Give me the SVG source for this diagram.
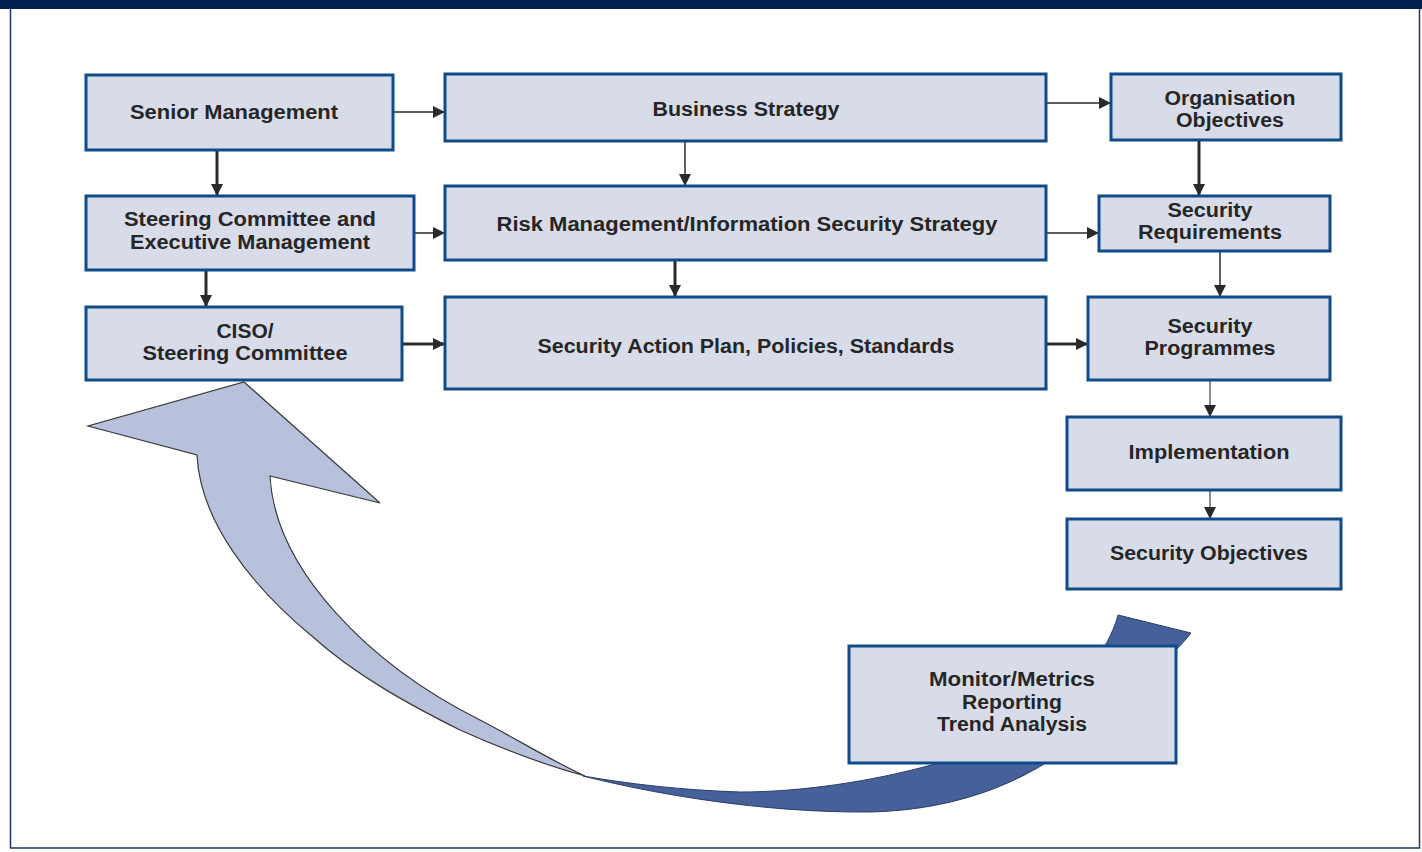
<svg xmlns="http://www.w3.org/2000/svg" width="1422" height="852" viewBox="0 0 1422 852">
<style>
.box{fill:#d8dce9;stroke:#0f4a8a;stroke-width:3}
.t{font-family:"Liberation Sans",Arial,sans-serif;font-weight:bold;font-size:20px;fill:#262626;text-anchor:middle}
.thin{stroke:#2a2a2a;stroke-width:1.5;fill:none}
.thick{stroke:#2a2a2a;stroke-width:3;fill:none}
.gray{stroke:#666;stroke-width:1.5;fill:none}
</style>
<defs>
<marker id="ah" markerUnits="userSpaceOnUse" markerWidth="14" markerHeight="12" refX="12" refY="6" orient="auto">
<path d="M0,0 L12,6 L0,12 Z" fill="#2a2a2a"/>
</marker>
</defs>
<rect x="0" y="0" width="1422" height="852" fill="#ffffff"/>
<rect x="10.5" y="8" width="1409" height="840" fill="#ffffff" stroke="#1c3566" stroke-width="1.5"/>
<rect x="0" y="0" width="1422" height="9" fill="#00204f"/>

<g id="feedback-arrow">
<path d="M244,382 L380,503 L270,476 C275,570 370,665 480,720 C515,738 550,760 585,776 C545,765 500,748 460,730 C410,705 355,675 313,637 C250,585 200,520 197,455 L88,426 Z" fill="#b8c1dc" stroke="#3a3a3a" stroke-width="1.2"/>
<path d="M583,776 C650,793 760,813 870,812 C960,810 1040,780 1100,720 C1140,680 1170,660 1191,633 L1118,615 C1105,665 1040,740 935,764 C870,782 800,792 740,792 C680,790 630,784 583,776 Z" fill="#46609a" stroke="#2e3f66" stroke-width="1"/>
</g>

<g id="connectors">
<path class="thin" d="M393,112 H445" marker-end="url(#ah)"/>
<path class="thin" d="M1046,103 H1111" marker-end="url(#ah)"/>
<path class="thick" d="M217,151 V196" marker-end="url(#ah)"/>
<path class="thin" d="M414,233 H445" marker-end="url(#ah)"/>
<path class="thick" d="M206,271 V307" marker-end="url(#ah)"/>
<path class="thick" d="M402,344 H445" marker-end="url(#ah)"/>
<path class="thin" d="M685,141 V186" marker-end="url(#ah)"/>
<path class="thick" d="M675,260 V297" marker-end="url(#ah)"/>
<path class="thin" d="M1046,233 H1099" marker-end="url(#ah)"/>
<path class="thick" d="M1046,344 H1088" marker-end="url(#ah)"/>
<path class="thick" d="M1199,140 V196" marker-end="url(#ah)"/>
<path class="thin" d="M1220,251 V297" marker-end="url(#ah)"/>
<path class="gray" d="M1210,380 V417" marker-end="url(#ah)"/>
<path class="gray" d="M1210,490 V519" marker-end="url(#ah)"/>
</g>

<g id="senior-management">
<rect class="box" x="86" y="75" width="307" height="75"/>
<text class="t" x="234" y="119" textLength="208" lengthAdjust="spacingAndGlyphs">Senior Management</text>
</g>
<g id="steering-executive">
<rect class="box" x="86" y="196" width="328" height="74"/>
<text class="t" x="250" y="226" textLength="252" lengthAdjust="spacingAndGlyphs">Steering Committee and</text>
<text class="t" x="250" y="249" textLength="240" lengthAdjust="spacingAndGlyphs">Executive Management</text>
</g>
<g id="ciso">
<rect class="box" x="86" y="307" width="316" height="73"/>
<text class="t" x="245" y="338" textLength="57" lengthAdjust="spacingAndGlyphs">CISO/</text>
<text class="t" x="245" y="360" textLength="205" lengthAdjust="spacingAndGlyphs">Steering Committee</text>
</g>
<g id="business-strategy">
<rect class="box" x="445" y="74" width="601" height="67"/>
<text class="t" x="746" y="116" textLength="187" lengthAdjust="spacingAndGlyphs">Business Strategy</text>
</g>
<g id="risk-management">
<rect class="box" x="445" y="186" width="601" height="74"/>
<text class="t" x="747" y="231" textLength="501" lengthAdjust="spacingAndGlyphs">Risk Management/Information Security Strategy</text>
</g>
<g id="security-action-plan">
<rect class="box" x="445" y="297" width="601" height="92"/>
<text class="t" x="746" y="353" textLength="417" lengthAdjust="spacingAndGlyphs">Security Action Plan, Policies, Standards</text>
</g>
<g id="organisation-objectives">
<rect class="box" x="1111" y="74" width="230" height="66"/>
<text class="t" x="1230" y="105" textLength="131" lengthAdjust="spacingAndGlyphs">Organisation</text>
<text class="t" x="1230" y="127" textLength="108" lengthAdjust="spacingAndGlyphs">Objectives</text>
</g>
<g id="security-requirements">
<rect class="box" x="1099" y="196" width="231" height="55"/>
<text class="t" x="1210" y="217" textLength="85" lengthAdjust="spacingAndGlyphs">Security</text>
<text class="t" x="1210" y="239" textLength="144" lengthAdjust="spacingAndGlyphs">Requirements</text>
</g>
<g id="security-programmes">
<rect class="box" x="1088" y="297" width="242" height="83"/>
<text class="t" x="1210" y="333" textLength="85" lengthAdjust="spacingAndGlyphs">Security</text>
<text class="t" x="1210" y="355" textLength="131" lengthAdjust="spacingAndGlyphs">Programmes</text>
</g>
<g id="implementation">
<rect class="box" x="1067" y="417" width="274" height="73"/>
<text class="t" x="1209" y="459" textLength="161" lengthAdjust="spacingAndGlyphs">Implementation</text>
</g>
<g id="security-objectives">
<rect class="box" x="1067" y="519" width="274" height="70"/>
<text class="t" x="1209" y="560" textLength="198" lengthAdjust="spacingAndGlyphs">Security Objectives</text>
</g>
<g id="monitor-metrics">
<rect class="box" x="849" y="646" width="327" height="117"/>
<text class="t" x="1012" y="686" textLength="166" lengthAdjust="spacingAndGlyphs">Monitor/Metrics</text>
<text class="t" x="1012" y="709" textLength="100" lengthAdjust="spacingAndGlyphs">Reporting</text>
<text class="t" x="1012" y="731" textLength="150" lengthAdjust="spacingAndGlyphs">Trend Analysis</text>
</g>
</svg>
